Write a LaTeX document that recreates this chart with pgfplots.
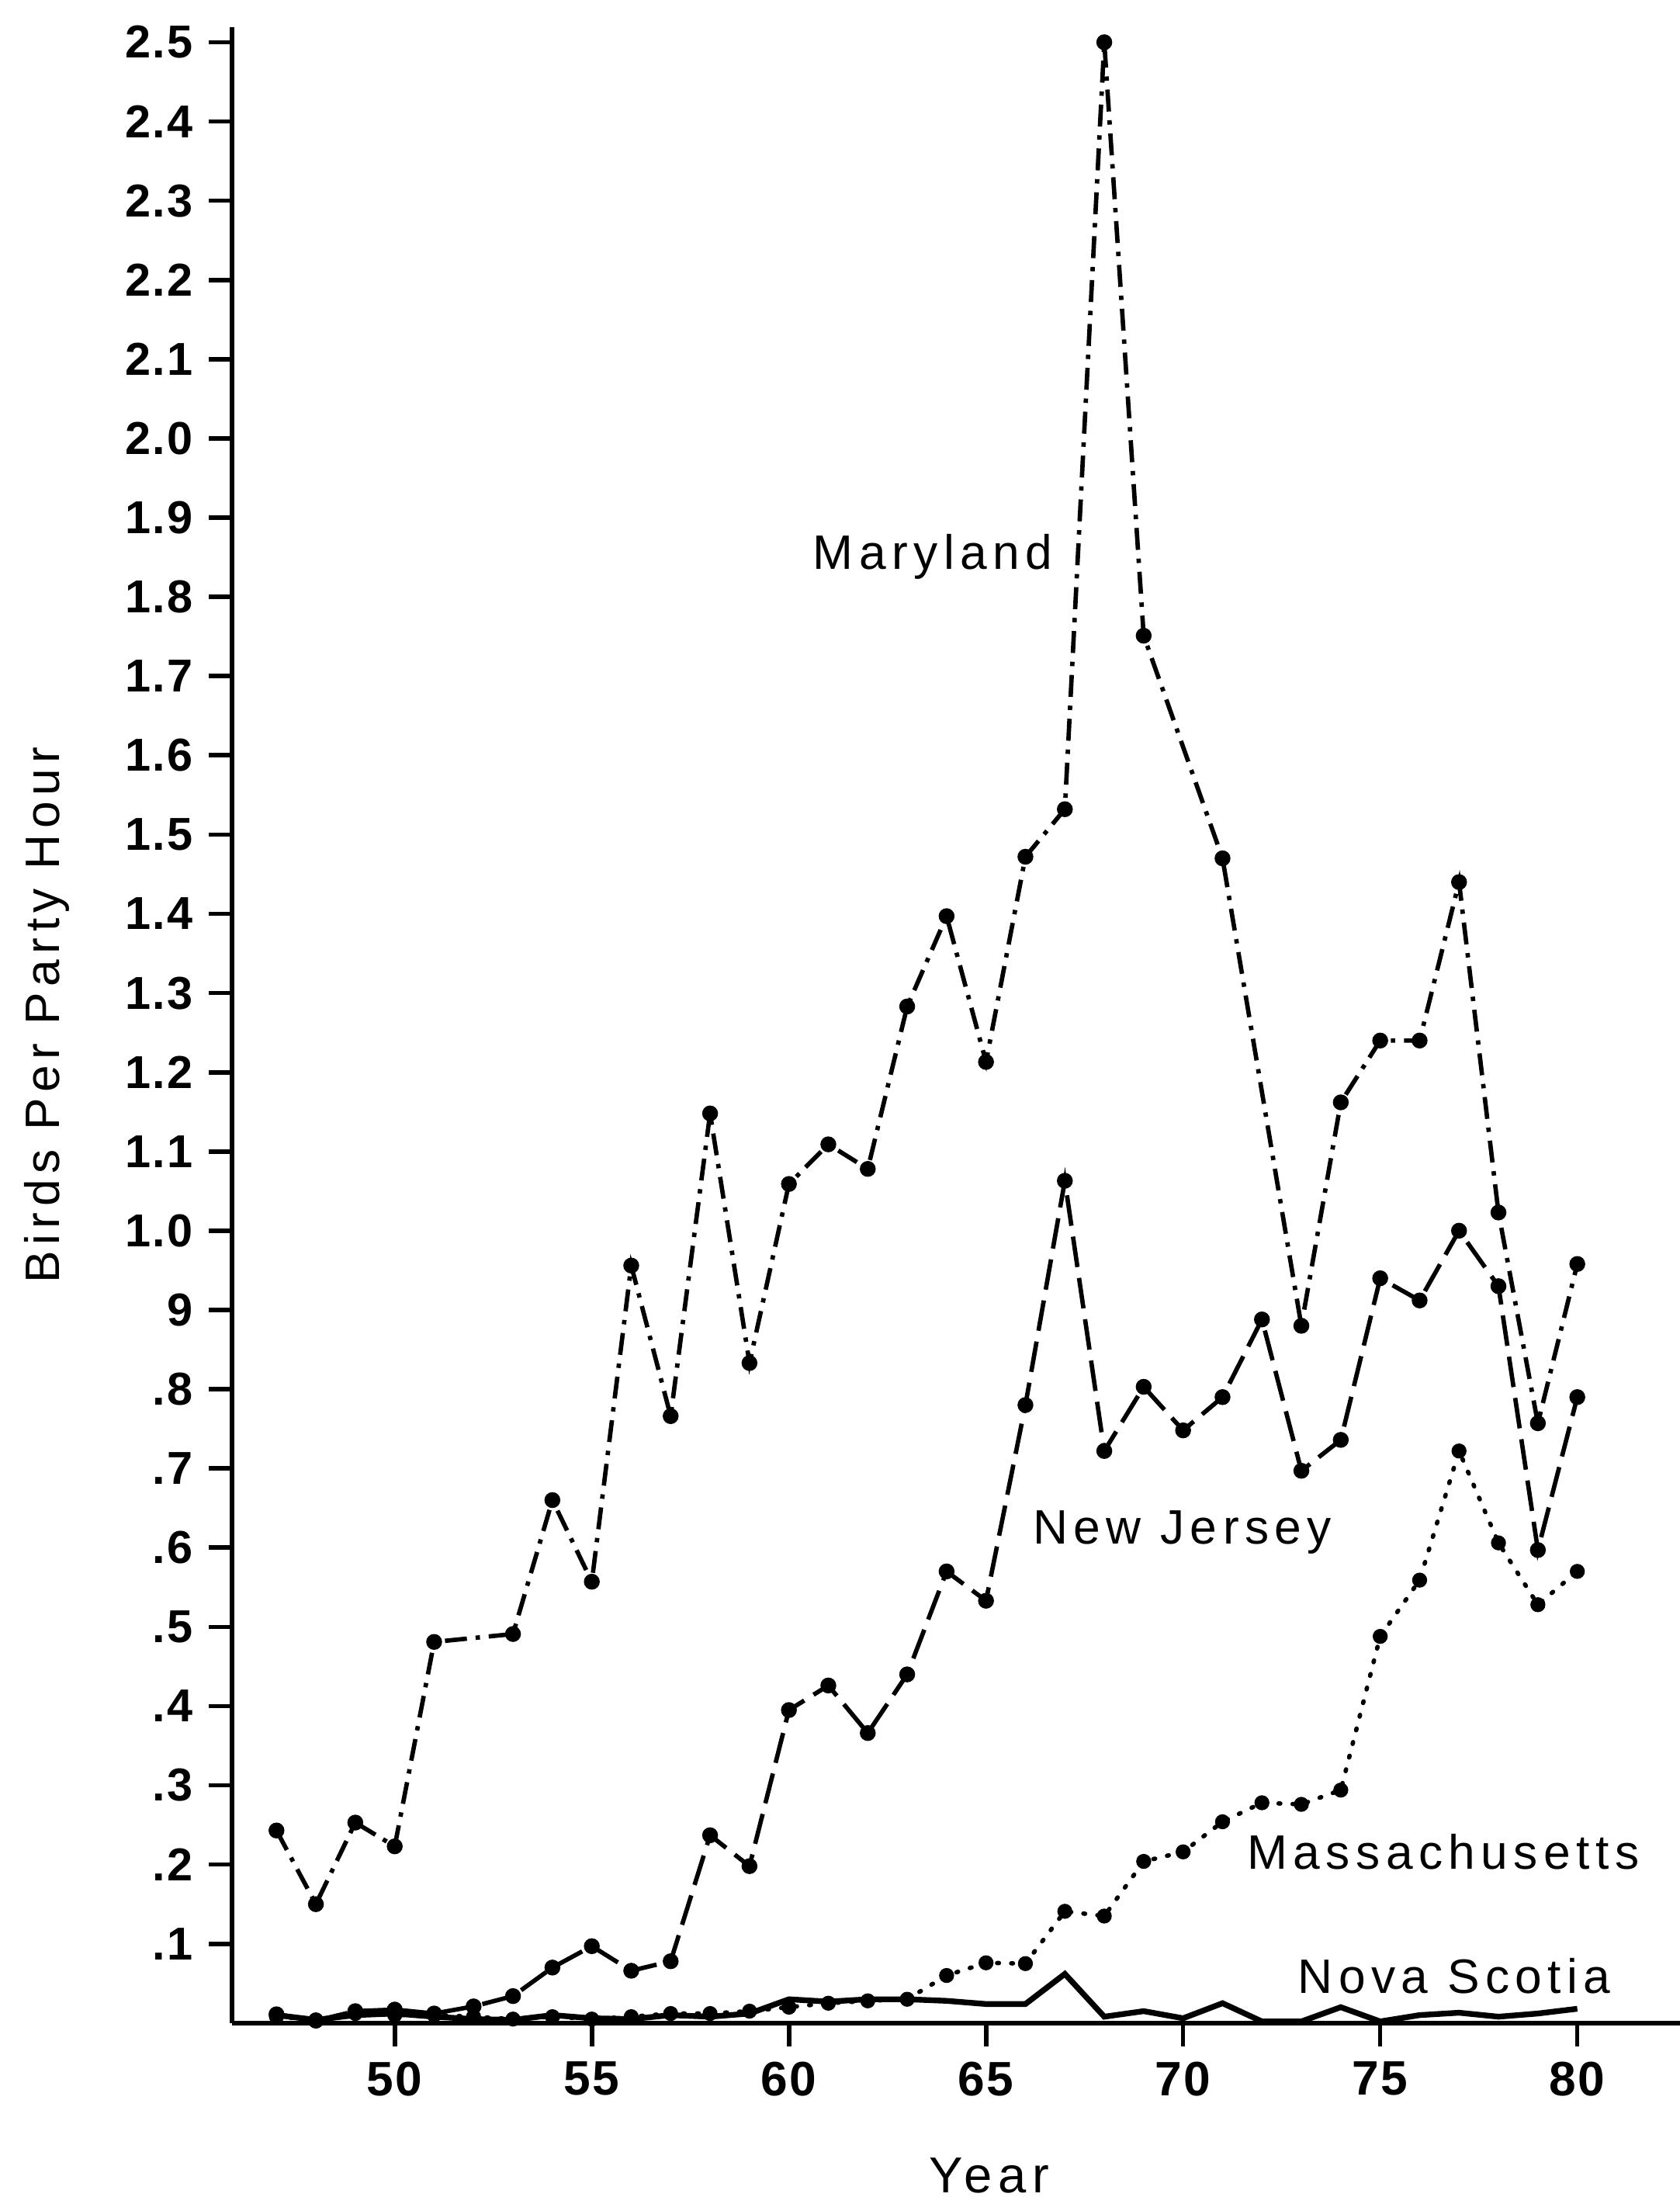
\documentclass[border=0pt]{standalone}
\usepackage{fontspec}
\setmainfont{Liberation Sans}
\newfontfamily\spacedfont[LetterSpace=12]{Liberation Sans}
\newfontfamily\tickfont[LetterSpace=4]{Liberation Sans}
\usepackage{pgfplots}
\pgfplotsset{compat=1.18}
\begin{document}
\begin{tikzpicture}
\begin{axis}[
  at={(0pt,0pt)}, anchor=south west,
  scale only axis,
  width=329.6pt, height=454.3pt,
  xmin=45.87, xmax=82.6,
  ymin=0, ymax=2.519,
  axis x line=bottom, axis y line=left,
  axis line style={-, line width=1.1pt},
  tick align=outside,
  major tick length=5.3pt,
  tick style={line width=1pt, black},
  xtick={50,55,60,65,70,75,80},
  xticklabels={50,55,60,65,70,75,80},
  ytick={0.1,0.2,0.3,0.4,0.5,0.6,0.7,0.8,0.9,1.0,1.1,1.2,1.3,1.4,1.5,1.6,1.7,1.8,1.9,2.0,2.1,2.2,2.3,2.4,2.5},
  yticklabels={.1,.2,.3,.4,.5,.6,.7,.8,9,1.0,1.1,1.2,1.3,1.4,1.5,1.6,1.7,1.8,1.9,2.0,2.1,2.2,2.3,2.4,2.5},
  yticklabel style={font=\tickfont\bfseries\fontsize{10.5}{12}\selectfont},
  xticklabel style={font=\tickfont\bfseries\fontsize{11}{13}\selectfont},
  xlabel={Year},
  ylabel={Birds Per Party Hour},
  xlabel style={at={(axis description cs:0.523,-0.0852)}, anchor=base, font=\spacedfont\fontsize{11.5}{13}\selectfont},
  ylabel style={at={(axis description cs:-0.119,0.505)}, anchor=base, font=\spacedfont\fontsize{11}{13}\selectfont},
  clip=false,
]
% Maryland
\addplot[black, line width=1pt, dash pattern=on 5pt off 2pt on 1pt off 2pt, mark=*, mark size=1.3pt, mark options={solid}] coordinates {
(47,0.243) (48,0.150) (49,0.253) (50,0.223) (51,0.481) (53,0.491) (54,0.660) (55,0.557) (56,0.956) (57,0.766) (58,1.148) (59,0.833) (60,1.059) (61,1.109) (62,1.078) (63,1.283) (64,1.397) (65,1.213) (66,1.472) (67,1.532) (68,2.500) (69,1.751) (71,1.470) (73,0.880) (74,1.162) (75,1.240) (76,1.240) (77,1.440) (78,1.023) (79,0.757) (80,0.958)
};
% New Jersey
\addplot[black, line width=1pt, dash pattern=on 7pt off 2.5pt, mark=*, mark size=1.3pt, mark options={solid}] coordinates {
(47,0.011) (48,0.003) (49,0.015) (50,0.017) (51,0.012) (52,0.021) (53,0.034) (54,0.070) (55,0.097) (56,0.066) (57,0.078) (58,0.237) (59,0.198) (60,0.395) (61,0.426) (62,0.366) (63,0.440) (64,0.570) (65,0.533) (66,0.780) (67,1.063) (68,0.722) (69,0.803) (70,0.748) (71,0.790) (72,0.888) (73,0.697) (74,0.736) (75,0.940) (76,0.912) (77,1.000) (78,0.930) (79,0.597) (80,0.790)
};
% Massachusetts
\addplot[black, line width=1pt, line cap=round, dash pattern=on 0.4pt off 2.8pt, mark=*, mark size=1.2pt, mark options={solid}] coordinates {
(47,0.008) (48,0.004) (49,0.012) (50,0.010) (51,0.010) (52,0.008) (53,0.005) (54,0.008) (55,0.005) (56,0.008) (57,0.012) (58,0.012) (59,0.015) (60,0.020) (61,0.025) (62,0.028) (63,0.030) (64,0.060) (65,0.076) (66,0.075) (67,0.141) (68,0.135) (69,0.204) (70,0.216) (71,0.254) (72,0.278) (73,0.276) (74,0.294) (75,0.488) (76,0.559) (77,0.722) (78,0.606) (79,0.528) (80,0.570)
};
% Nova Scotia
\addplot[black, line width=1.3pt, solid, mark=none] coordinates {
(47,0.010) (48,0.004) (49,0.010) (50,0.012) (51,0.008) (52,0.005) (53,0.004) (54,0.010) (55,0.006) (56,0.005) (57,0.010) (58,0.008) (59,0.012) (60,0.030) (61,0.027) (62,0.030) (63,0.030) (64,0.028) (65,0.024) (66,0.024) (67,0.062) (68,0.008) (69,0.015) (70,0.006) (71,0.025) (72,0.002) (73,0.002) (74,0.020) (75,0.002) (76,0.010) (77,0.013) (78,0.008) (79,0.012) (80,0.018)
};
\node[anchor=base, font=\spacedfont\fontsize{11}{13}\selectfont] at (axis cs:63.65,1.835) {Maryland};
\node[anchor=base, font=\spacedfont\fontsize{11}{13}\selectfont] at (axis cs:69.98,0.605) {New Jersey};
\node[anchor=base, font=\spacedfont\fontsize{11}{13}\selectfont] at (axis cs:76.6,0.194) {Massachusetts};
\node[anchor=base, font=\spacedfont\fontsize{11}{13}\selectfont] at (axis cs:76.88,0.038) {Nova Scotia};
\end{axis}
\pgfresetboundingbox
\path[use as bounding box] (-52.8pt,-39.6pt) rectangle (329.6pt,460.5pt);
\end{tikzpicture}
\end{document}
